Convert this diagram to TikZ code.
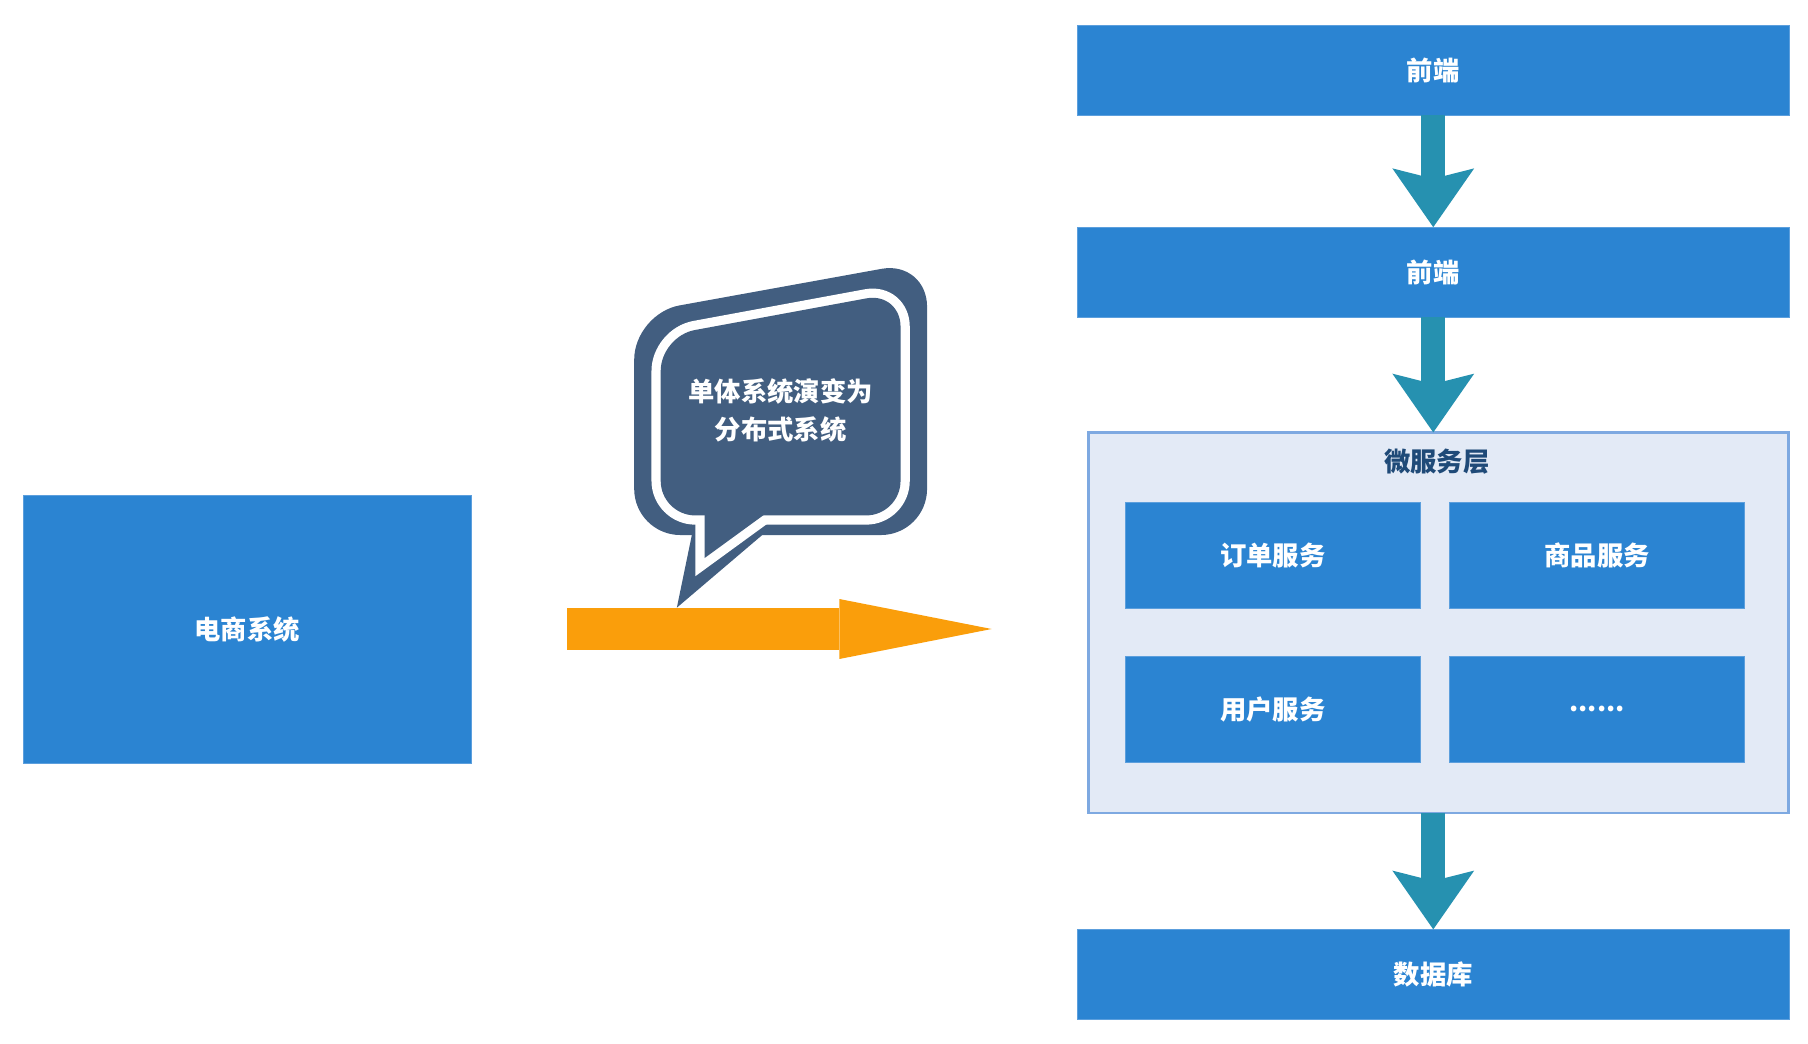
\documentclass[tikz,border=0pt]{standalone}
\usepackage{fontspec}
\usetikzlibrary{arrows.meta}
\newfontfamily\cjk{Noto Sans CJK SC}
\definecolor{boxblue}{HTML}{2B84D2}
\definecolor{boxedge}{HTML}{5C9FDD}
\definecolor{flowteal}{HTML}{2691B0}
\definecolor{talkblue}{HTML}{425E80}
\definecolor{evolveorange}{HTML}{FA9E0B}
\definecolor{layerfill}{HTML}{E3EAF6}
\definecolor{layeredge}{HTML}{7EA9E1}
\definecolor{titleblue}{HTML}{1F4A78}

\begin{document}
\begin{tikzpicture}[x=0.02cm, y=-0.02cm,
    every node/.style={inner sep=0, outer sep=0, font=\cjk\bfseries\fontsize{13}{18.8}\selectfont},
    box/.style={fill=boxblue, draw=boxedge, line width=0.4pt, text=white},
    service/.style={box, minimum width=5.12cm, minimum height=1.84cm},
    layer/.style={fill=layerfill, draw=layeredge, line width=0.04cm},
    flow/.style={draw=flowteal, line width=0.42cm, -{Stealth[length=1.02cm, width=1.42cm, inset=0.18cm, line width=0pt]}},
    evolve/.style={draw=evolveorange, line width=0.72cm, -{Triangle[length=2.64cm, width=1.04cm, line width=0pt]}},
    talk/.style={fill=talkblue}]
  \useasboundingbox (0,0) rectangle (1568,905.4);
  \node[box, minimum width=7.78cm, minimum height=4.64cm] (shop) at (214.5,546) {电商系统};
  \coordinate (from) at (492,545.5);
  \coordinate (to) at (860,545.5);
  \draw[evolve] (from) -- (to);
  \fill[talk, rounded corners=0.8cm] (550,272) -- (804,226) -- (804,464) -- (550,464) -- cycle;
  \fill[talk] (600,430) -- (600,464) -- (587,527) -- (701,430) -- cycle;
  \draw[white, line width=0.32cm, rounded corners=0.6cm] (573,291.7) -- (781,253.3) -- (781,447) -- (573,447) -- cycle;
  \draw[white, line width=0.32cm] (611,425) -- (611,484) -- (692,425) -- cycle;
  \fill[talk, rounded corners=0.6cm] (573,291.7) -- (781,253.3) -- (781,447) -- (573,447) -- cycle;
  \fill[talk] (611,425) -- (611,484) -- (692,425) -- cycle;
  \node[align=center, text=white] (say) at (677,356) {单体系统演变为\\分布式系统};
  \node[box, minimum width=12.36cm, minimum height=1.56cm] (fe1) at (1243,61) {前端};
  \node[box, minimum width=12.36cm, minimum height=1.56cm] (fe2) at (1243,236) {前端};
  \node[layer, minimum width=12.14cm, minimum height=6.6cm] (ms) at (1247.5,540) {};
  \node[text=titleblue] (mstitle) at (1246,400) {微服务层};
  \foreach \n/\x/\y/\t in {order/1104/482/订单服务, goods/1385/482/商品服务, user/1104/615/用户服务}
    \node[service] (\n) at (\x,\y) {\t};
  \node[service] (more) at (1385,615) {......};
  \node[box, minimum width=12.36cm, minimum height=1.56cm] (db) at (1243,845) {数据库};
  \draw[flow] (fe1) -- (fe2);
  \draw[flow] (fe2.south) -- (fe2.south |- ms.north);
  \draw[flow] (db.north |- ms.south) -- (db.north);
\end{tikzpicture}
\end{document}
